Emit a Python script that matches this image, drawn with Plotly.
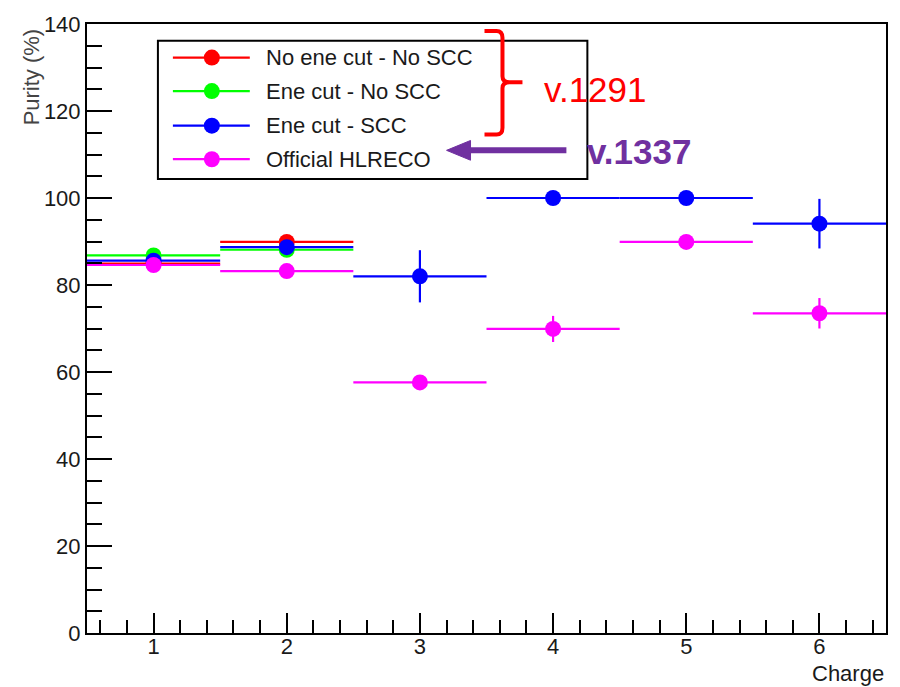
import plotly.graph_objects as go

# ---------------- data ----------------
charges = [1, 2, 3, 4, 5, 6]
series_names = ["No ene cut - No SCC", "Ene cut - No SCC", "Ene cut - SCC", "Official HLRECO"]
series_colors = ["#ff0000", "#00ff00", "#0000ff", "#ff00ff"]

red_x = [1, 2]
red_y = [84.9, 89.9]
red_err = [1.0, 1.0]

green_x = [1, 2]
green_y = [86.8, 88.1]
green_err = [1.0, 1.0]

blue_x = [1, 2, 3, 4, 5, 6]
blue_y = [85.6, 88.7, 82.0, 100.0, 100.0, 94.1]
blue_err = [1.0, 1.0, 6.0, 0.0, 0.0, 5.7]

mag_x = [1, 2, 3, 4, 5, 6]
mag_y = [84.6, 83.2, 57.6, 69.9, 89.9, 73.5]
mag_err = [1.0, 1.0, 1.5, 3.0, 1.0, 3.5]

bin_halfwidth = 0.5
x_range = [0.5, 6.5]
y_range = [0, 140]

# ---------------- layout geometry (pixels) ----------------
W, H = 900, 687
L, R, T, B = 87, 887, 16, 633  # plot area edges in pixels

def px2p(px):
    return (px - L) / (R - L)

def py2p(py):
    return (B - py) / (B - T)

def px2x(px):
    return x_range[0] + (px - L) / (R - L) * (x_range[1] - x_range[0])

def py2y(py):
    return y_range[0] + (B - py) / (B - T) * (y_range[1] - y_range[0])

FONT = "Liberation Sans, Arial, sans-serif"

fig = go.Figure()

all_series = [
    (red_x, red_y, red_err),
    (green_x, green_y, green_err),
    (blue_x, blue_y, blue_err),
    (mag_x, mag_y, mag_err),
]

for (xs, ys, es), name, col in zip(all_series, series_names, series_colors):
    fig.add_trace(go.Scatter(
        x=xs, y=ys, mode="markers", name=name, showlegend=False,
        marker=dict(color=col, size=16, line=dict(width=0)),
        error_x=dict(type="constant", value=bin_halfwidth, width=0, thickness=2.2, color=col),
        error_y=dict(type="data", array=es, width=0, thickness=2.2, color=col),
    ))

shapes = []
annotations = []

# ---------------- manual legend ----------------
leg_x0, leg_x1, leg_y0, leg_y1 = 158, 588, 33, 173
shapes.append(dict(type="rect", xref="paper", yref="paper",
                   x0=px2p(leg_x0), x1=px2p(leg_x1), y0=py2p(leg_y1), y1=py2p(leg_y0),
                   line=dict(color="black", width=2), fillcolor="rgba(0,0,0,0)", layer="above"))
row_y = [50, 84, 119, 153]
for name, col, ry in zip(series_names, series_colors, row_y):
    shapes.append(dict(type="line", xref="paper", yref="paper",
                       x0=px2p(173), x1=px2p(250), y0=py2p(ry), y1=py2p(ry),
                       line=dict(color=col, width=2.2)))
    shapes.append(dict(type="circle", xref="paper", yref="paper",
                       xsizemode="pixel", ysizemode="pixel",
                       xanchor=px2p(212), yanchor=py2p(ry),
                       x0=-8, x1=8, y0=-8, y1=8,
                       fillcolor=col, line=dict(width=0)))
    annotations.append(dict(xref="paper", yref="paper", x=px2p(264), y=py2p(ry),
                            xanchor="left", yanchor="middle", showarrow=False,
                            text=name, font=dict(family=FONT, size=22, color="#1a1a1a")))

# ---------------- bracket "}" ----------------
def P(px, py):
    return f"{px2x(px):.5f},{py2y(py):.5f}"

brace = (f"M{P(485,23)} L{P(497,23)} Q{P(503,23)} {P(503,30)} L{P(503,69)} "
         f"Q{P(503,75)} {P(510,75)} L{P(523,75)} M{P(510,75)} Q{P(503,75)} {P(503,81)} "
         f"L{P(503,121)} Q{P(503,128)} {P(497,128)} L{P(485,128)}")
shapes.append(dict(type="path", xref="x", yref="y", path=brace,
                   line=dict(color="#ff0000", width=4), fillcolor="rgba(0,0,0,0)"))

annotations.append(dict(xref="paper", yref="paper", x=px2p(543), y=py2p(82),
                        xanchor="left", yanchor="middle", showarrow=False,
                        text="v.1291", font=dict(family=FONT, size=35, color="#ff0000")))

# ---------------- purple arrow ----------------
purple = "#7030a0"
shapes.append(dict(type="line", xref="x", yref="y",
                   x0=px2x(567), x1=px2x(466), y0=py2y(144), y1=py2y(144),
                   line=dict(color=purple, width=6)))
shapes.append(dict(type="path", xref="x", yref="y",
                   path=f"M{P(447,144)} L{P(471,134)} L{P(471,154)} Z",
                   fillcolor=purple, line=dict(color=purple, width=1)))
annotations.append(dict(xref="paper", yref="paper", x=px2p(586), y=py2p(145),
                        xanchor="left", yanchor="middle", showarrow=False,
                        text="<b>v.1337</b>", font=dict(family=FONT, size=35, color=purple)))

# ---------------- axis titles ----------------
annotations.append(dict(xref="paper", yref="paper", x=px2p(887), y=py2p(674),
                        xanchor="right", yanchor="middle", showarrow=False,
                        text="Charge", font=dict(family=FONT, size=22, color="#1a1a1a")))
annotations.append(dict(xref="paper", yref="paper", x=px2p(31), y=py2p(70),
                        xanchor="center", yanchor="middle", showarrow=False, textangle=-90,
                        text="Purity (%)", font=dict(family=FONT, size=22, color="#444444")))

fig.update_layout(
    width=W, height=H,
    margin=dict(l=L, r=W - R, t=T, b=H - B, pad=0),
    paper_bgcolor="white", plot_bgcolor="white",
    showlegend=False,
    shapes=shapes, annotations=annotations,
    font=dict(family=FONT, size=22, color="#1a1a1a"),
)
fig.update_xaxes(
    range=x_range, tickmode="linear", tick0=0, dtick=1,
    ticks="inside", ticklen=20, tickwidth=2, tickcolor="black",
    minor=dict(dtick=0.2, ticks="inside", ticklen=13, tickwidth=2, tickcolor="black", showgrid=False),
    showline=True, linecolor="black", linewidth=2, mirror=True,
    showgrid=False, zeroline=False, ticklabelstandoff=-7,
    tickfont=dict(family=FONT, size=22, color="#1a1a1a"),
)
fig.update_yaxes(
    range=y_range, tickmode="linear", tick0=0, dtick=20,
    ticks="inside", ticklen=25, tickwidth=2, tickcolor="black",
    minor=dict(dtick=5, ticks="inside", ticklen=15, tickwidth=2, tickcolor="black", showgrid=False),
    showline=True, linecolor="black", linewidth=2, mirror=True,
    showgrid=False, zeroline=False,
    tickfont=dict(family=FONT, size=22, color="#1a1a1a"),
)

fig.write_html("out.html")
